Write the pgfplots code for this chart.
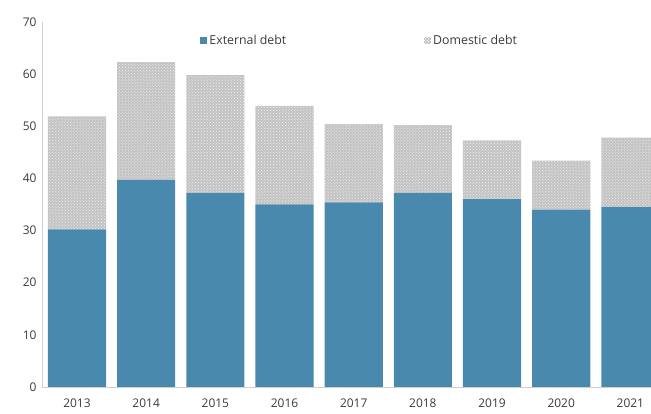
\documentclass[border=0pt]{standalone}
\usepackage{pgfplots}
\pgfplotsset{compat=1.18}
\usepackage{fontspec}
\setmainfont{Open Sans}
\usetikzlibrary{patterns}
\definecolor{extblue}{HTML}{4A89AE}
\definecolor{txt}{HTML}{3A3A3A}
\definecolor{axgray}{HTML}{D0D0D0}
\begin{document}
\begin{tikzpicture}
\begin{axis}[
  scale only axis,
  width=609bp, height=365bp,
  ymin=0, ymax=70,
  xmin=-0.506, xmax=8.295,
  ytick={0,10,...,70},
  xtick={0,...,8},
  xticklabels={2013,2014,2015,2016,2017,2018,2019,2020,2021},
  ybar stacked,
  bar width=0.84,
  axis x line*=bottom,
  axis y line*=left,
  axis line style={axgray},
  ytick style={draw=none},
  xtick style={draw=none},
  tick label style={font=\fontsize{12}{14}\selectfont, text=txt},
  /pgf/number format/assume math mode=true,
  yticklabel style={xshift=-2bp},
  xticklabel style={yshift=-8bp},
  legend style={draw=none, fill=none, at={(0.255,0.975)}, anchor=north west,
    font=\fontsize{12.4}{14}\selectfont, text=txt, /tikz/every even column/.append style={column sep=136bp}},
  legend columns=2,
  legend cell align=left,
  clip=true,
]
\addplot+[fill=extblue, draw=none,
  legend image code/.code={\fill[extblue] (0bp,-3.5bp) rectangle (7bp,3.5bp);}]
  coordinates {(0,30.2) (1,39.7) (2,37.2) (3,35.0) (4,35.4) (5,37.2) (6,36.0) (7,34.0) (8,34.5)};
\addlegendentry{External debt}
\addplot+[fill=gray!48, draw=none, postaction={pattern=crosshatch dots, pattern color=white!92!gray},
  legend image code/.code={\fill[gray!48] (0bp,-3.5bp) rectangle (7bp,3.5bp); \fill[pattern=crosshatch dots, pattern color=white] (0bp,-3.5bp) rectangle (7bp,3.5bp);}]
  coordinates {(0,21.7) (1,22.6) (2,22.6) (3,18.9) (4,15.0) (5,13.0) (6,11.3) (7,9.4) (8,13.3)};
\addlegendentry{Domestic debt}
\end{axis}
\path[use as bounding box] (-42bp,-27bp) rectangle (609bp,387bp);
\end{tikzpicture}
\end{document}
